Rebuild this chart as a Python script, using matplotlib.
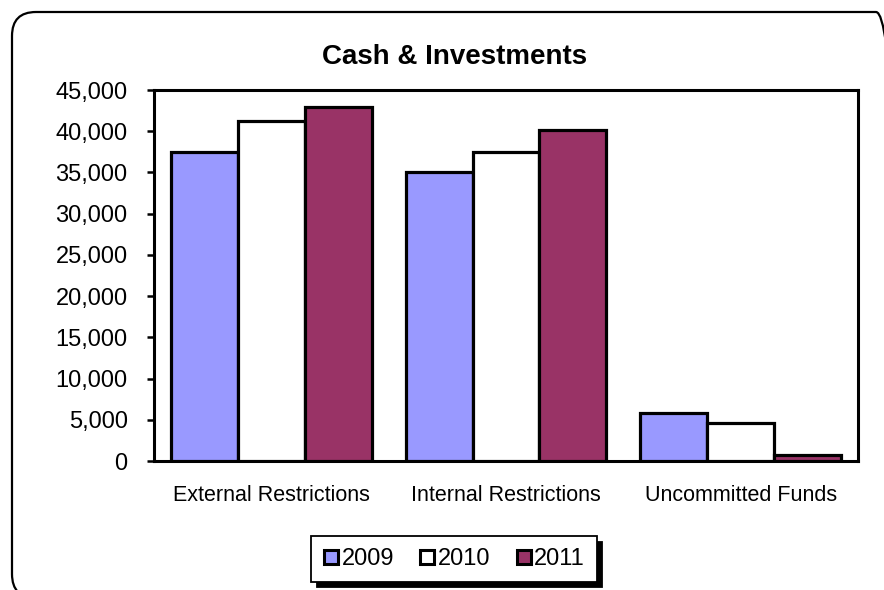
import matplotlib
matplotlib.use("Agg")
import matplotlib.pyplot as plt
import numpy as np
from matplotlib.patches import FancyBboxPatch
from matplotlib.lines import Line2D
from matplotlib.transforms import IdentityTransform
from matplotlib.ticker import FuncFormatter, MultipleLocator

categories = ["External Restrictions", "Internal Restrictions", "Uncommitted Funds"]
years = ["2009", "2010", "2011"]
values_2009 = [37500, 35000, 5800]
values_2010 = [41200, 37500, 4600]
values_2011 = [42900, 40100, 700]
colors = ["#9999FF", "#FFFFFF", "#993366"]
title = "Cash & Investments"

plt.rcParams['font.family'] = ['Liberation Sans', 'DejaVu Sans']

fig = plt.figure(figsize=(8.84, 5.90), dpi=100)
ax = fig.add_axes([154/884, 1-461/590, (858-154)/884, (461-90)/590])

x = np.arange(len(categories))
w = 0.285
series = [values_2009, values_2010, values_2011]
for i, (vals, c) in enumerate(zip(series, colors)):
    ax.bar(x + (i-1)*w, vals, width=w, color=c, edgecolor='black', linewidth=2.3, zorder=3)

ax.set_xlim(-0.5, 2.5)
ax.set_ylim(0, 45000)
ax.yaxis.set_major_locator(MultipleLocator(5000))
ax.yaxis.set_major_formatter(FuncFormatter(lambda v, p: f"{int(v):,}"))
ax.set_xticks(x)
ax.set_xticklabels(categories, fontsize=15.5)
ax.tick_params(axis='x', length=0, pad=17)
ax.tick_params(axis='y', length=5, width=1.8, direction='out', pad=14, labelsize=17)
for s in ax.spines.values():
    s.set_linewidth(2.2)
    s.set_color('black')

fig.text(455/884, 1-57/590, title, ha='center', va='center', fontsize=20, fontweight='bold')

handles = [Line2D([], [], marker='s', linestyle='none', markersize=9.5,
                  markerfacecolor=c, markeredgecolor='black', markeredgewidth=2.2)
           for c in colors]
leg = fig.legend(handles, years, loc='center', bbox_to_anchor=(454/884, 1-559/590),
                 ncol=3, fontsize=17, frameon=True, fancybox=False,
                 handlelength=0.7, handletextpad=0.1, columnspacing=1.05,
                 borderpad=0.5,
                 shadow={'ox': 4, 'oy': -4, 'facecolor': 'black', 'edgecolor': 'black', 'alpha': 1})
leg.get_frame().set_edgecolor('black')
leg.get_frame().set_linewidth(1.3)

outer = FancyBboxPatch((12, -8), 888, 590-12+8, boxstyle="round,pad=0,rounding_size=24",
                       transform=IdentityTransform(), facecolor='none', edgecolor='black',
                       linewidth=1.6, clip_on=False)
fig.patches.append(outer)

fig.savefig("out.png", dpi=100)
